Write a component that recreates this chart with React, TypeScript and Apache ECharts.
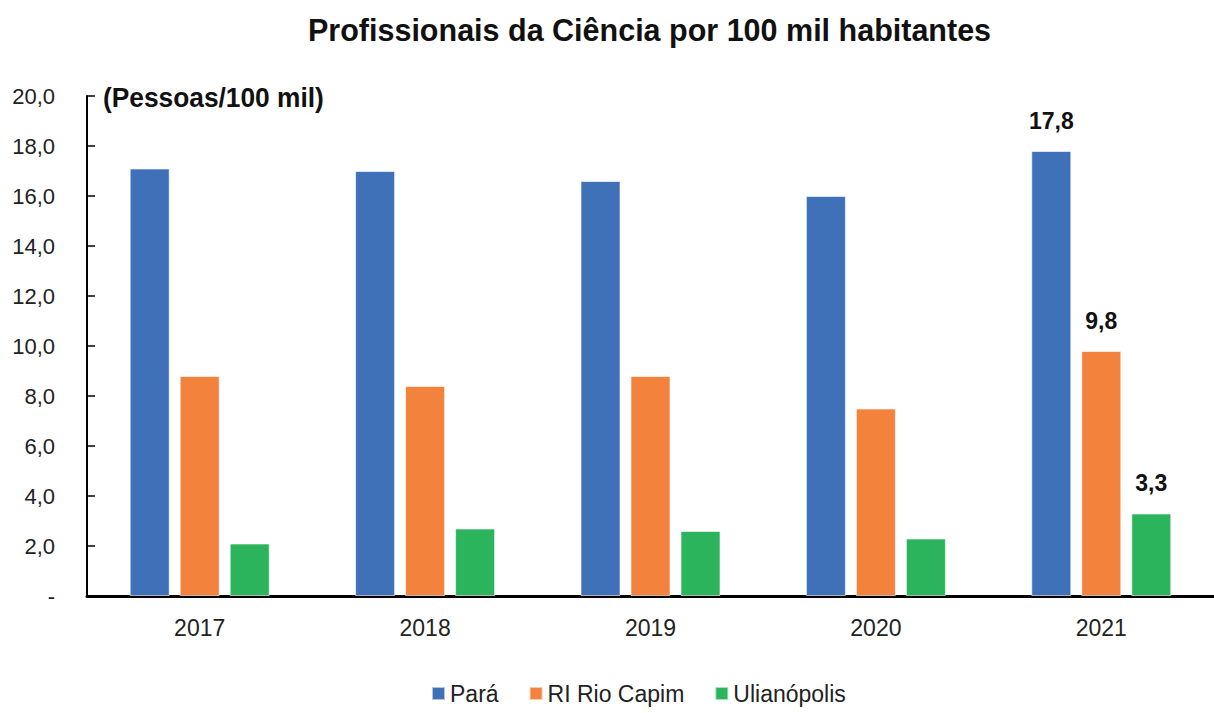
import React, { useEffect, useRef } from "react";
import * as echarts from "echarts";

const categories = ["2017", "2018", "2019", "2020", "2021"];
const para = [17.1, 17.0, 16.6, 16.0, 17.8];
const rioCapim = [8.8, 8.4, 8.8, 7.5, 9.8];
const ulianopolis = [2.1, 2.7, 2.6, 2.3, 3.3];
const seriesNames = ["Pará", "RI Rio Capim", "Ulianópolis"];
const colors = ["#3F71B9", "#F2823C", "#2CB45D"];
const yTicks = { min: 0, max: 20, interval: 2 };

const FONT = "'Liberation Sans', Arial, sans-serif";
const fmt = (v: number) => (v === 0 ? "-" : v.toFixed(1).replace(".", ","));

export default function App() {
  const ref = useRef<HTMLDivElement>(null);
  useEffect(() => {
    if (!ref.current) return;
    const chart = echarts.init(ref.current, null, { renderer: "svg" });
    const mk = (name: string, data: number[], color: string) => ({
      name,
      type: "bar",
      barWidth: 40,
      barGap: "25%",
      itemStyle: { color, borderColor: "rgba(255,255,255,0.6)", borderWidth: 1 },
      data: data.map((v, i) => ({
        value: v,
        label: {
          show: i === data.length - 1,
          position: "top",
          distance: 19,
          formatter: (p: any) => fmt(p.value),
          fontFamily: FONT,
          fontWeight: "bold",
          fontSize: 23,
          color: "#111",
        },
      })),
    });
    chart.setOption({
      animation: false,
      color: colors,
      title: {
        text: "Profissionais da Ciência por 100 mil habitantes",
        left: 303,
        top: 9,
        textStyle: {
          fontFamily: FONT,
          fontWeight: "bold",
          fontSize: 30.5,
          color: "#111",
        },
      },
      graphic: [
        {
          type: "text",
          x: 103,
          y: 83,
          scaleX: 0.94,
          style: {
            text: "(Pessoas/100 mil)",
            fontFamily: FONT,
            fontWeight: "bold",
            fontSize: 28,
            fill: "#111",
          },
        },
      ],
      legend: {
        bottom: 3,
        left: 426,
        itemWidth: 13,
        itemHeight: 13,
        itemGap: 30,
        icon: "rect",
        data: seriesNames,
        textStyle: { fontFamily: FONT, fontSize: 23, color: "#222" },
      },
      grid: { left: 87, right: -8, top: 96, bottom: 117 },
      xAxis: {
        type: "category",
        data: categories,
        axisLine: { lineStyle: { color: "#000", width: 3 } },
        axisTick: { inside: true, length: 7, lineStyle: { color: "#000", width: 2 } },
        axisLabel: {
          margin: 20,
          fontFamily: FONT,
          fontSize: 23,
          color: "#222",
        },
      },
      yAxis: {
        type: "value",
        min: yTicks.min,
        max: yTicks.max,
        interval: yTicks.interval,
        splitLine: { show: false },
        axisLine: { show: true, lineStyle: { color: "#000", width: 2 } },
        axisTick: { show: true, inside: true, length: 8, lineStyle: { color: "#000", width: 1.5 } },
        axisLabel: {
          margin: 32,
          formatter: fmt,
          fontFamily: FONT,
          fontSize: 22,
          color: "#222",
        },
      },
      series: [
        mk(seriesNames[0], para, colors[0]),
        mk(seriesNames[1], rioCapim, colors[1]),
        mk(seriesNames[2], ulianopolis, colors[2]),
      ],
    });
    return () => chart.dispose();
  }, []);
  return <div ref={ref} style={{ width: 1214, height: 713, position: "absolute", left: 0, top: 0 }} />;
}
